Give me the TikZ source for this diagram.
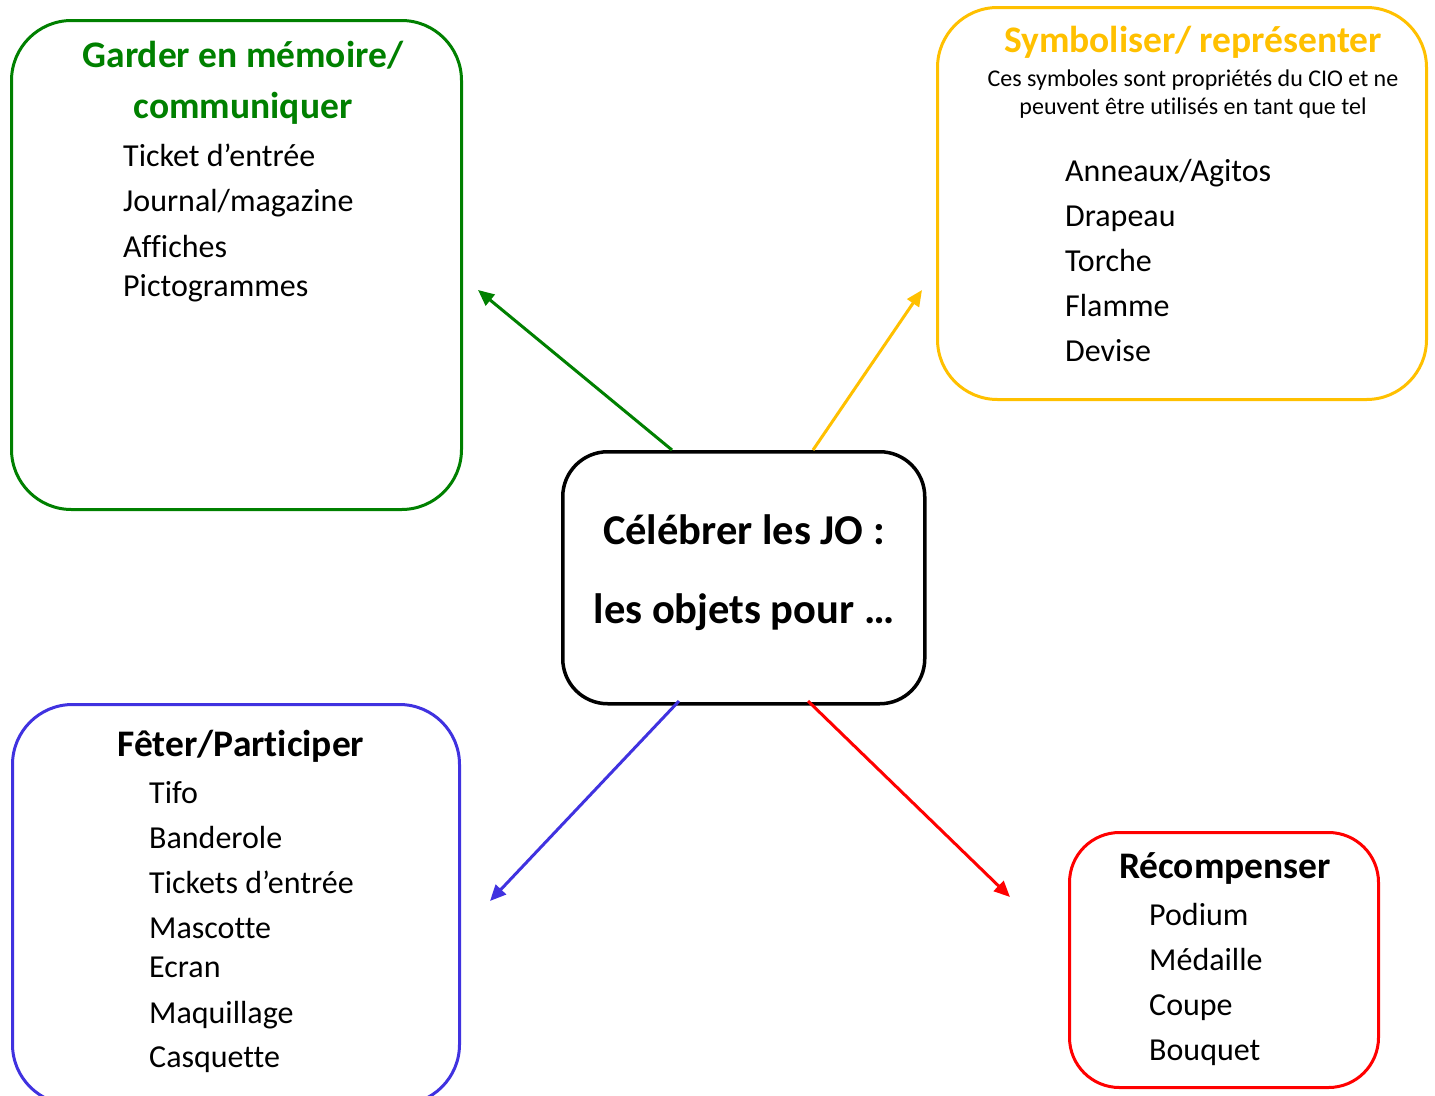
\documentclass[tikz,border=0pt]{standalone}
\usepackage{fontspec}
\setmainfont{Carlito}[Ligatures={NoCommon}]
\usetikzlibrary{arrows.meta}
\definecolor{cgreen}{RGB}{0,128,0}
\definecolor{cyellow}{RGB}{255,192,0}
\definecolor{cblue}{RGB}{64,50,224}
\definecolor{cred}{RGB}{255,0,0}
\begin{document}
\begin{tikzpicture}[x=1pt,y=-1pt,
  box/.style={draw, line width=3pt, rounded corners=60pt, anchor=north west, inner sep=0pt},
  item/.style={anchor=base west, inner sep=0pt, font=\fontsize{32}{36}\selectfont},
  ttl/.style={anchor=base, inner sep=0pt, font=\fontsize{37.5}{44}\selectfont\bfseries},
  ctr/.style={anchor=base, inner sep=0pt, font=\fontsize{42.5}{48}\selectfont\bfseries},
  sub/.style={anchor=base, inner sep=0pt, font=\fontsize{24}{28}\selectfont},
  arr/.style={line width=3pt, -{Triangle[length=16pt,width=14pt]}}]
\useasboundingbox (0,0) rectangle (1435,1095);
\clip (0,0) rectangle (1435,1095);
% boxes
\node[box, draw=cgreen, minimum width=450pt, minimum height=489pt] (gbox) at (10,19) {};
\node[box, draw=cyellow, minimum width=489pt, minimum height=392pt] (ybox) at (936,6) {};
\node[box, draw=black, line width=3.5pt, rounded corners=45pt, minimum width=362pt, minimum height=252pt] (cbox) at (561,450) {};
\node[box, draw=cblue, minimum width=447pt, minimum height=400pt] (bbox) at (11,703) {};
\node[box, draw=cred, rounded corners=50pt, minimum width=309pt, minimum height=255pt] (rbox) at (1068,831) {};
% center text
\node[ctr] (c1) at (744,544) {Célébrer les JO :};
\node[ctr] (c2) at (744,623) {les objets pour …};
% green
\node[ttl, text=cgreen] (gt1) at (243,67) {Garder en mémoire/};
\node[ttl, text=cgreen] (gt2) at (243,118) {communiquer};
\node[item] (g1) at (123,166) {Ticket d’entrée};
\node[item] (g2) at (123,211) {Journal/magazine};
\node[item] (g3) at (123,257) {Affiches};
\node[item] (g4) at (123,296) {Pictogrammes};
% yellow
\node[ttl, text=cyellow] (yt) at (1193,52) {Symboliser/ représenter};
\node[sub] (ys1) at (1193,86) {Ces symboles sont propriétés du CIO et ne};
\node[sub] (ys2) at (1193,114) {peuvent être utilisés en tant que tel};
\node[item] (y1) at (1065,181) {Anneaux/Agitos};
\node[item] (y2) at (1065,226) {Drapeau};
\node[item] (y3) at (1065,271) {Torche};
\node[item] (y4) at (1065,316) {Flamme};
\node[item] (y5) at (1065,361) {Devise};
% blue
\node[ttl] (bt) at (241,756) {Fêter/Participer};
\node[item] (b1) at (149,803) {Tifo};
\node[item] (b2) at (149,848) {Banderole};
\node[item] (b3) at (149,893) {Tickets d’entrée};
\node[item] (b4) at (149,938) {Mascotte};
\node[item] (b5) at (149,977) {Ecran};
\node[item] (b6) at (149,1023) {Maquillage};
\node[item] (b7) at (149,1067) {Casquette};
% red
\node[ttl] (rt) at (1225,878) {Récompenser};
\node[item] (r1) at (1149,925) {Podium};
\node[item] (r2) at (1149,970) {Médaille};
\node[item] (r3) at (1149,1015) {Coupe};
\node[item] (r4) at (1149,1060) {Bouquet};
% arrows
\coordinate (sg) at (672,450);
\coordinate (eg) at (478,290);
\coordinate (sy) at (813,450);
\coordinate (ey) at (922,290);
\coordinate (sb) at (679,701);
\coordinate (eb) at (490,901);
\coordinate (sr) at (808,701);
\coordinate (er) at (1010,897);
\draw[arr, cgreen] (sg) -- (eg);
\draw[arr, cyellow] (sy) -- (ey);
\draw[arr, cblue] (sb) -- (eb);
\draw[arr, cred] (sr) -- (er);
\end{tikzpicture}
\end{document}
